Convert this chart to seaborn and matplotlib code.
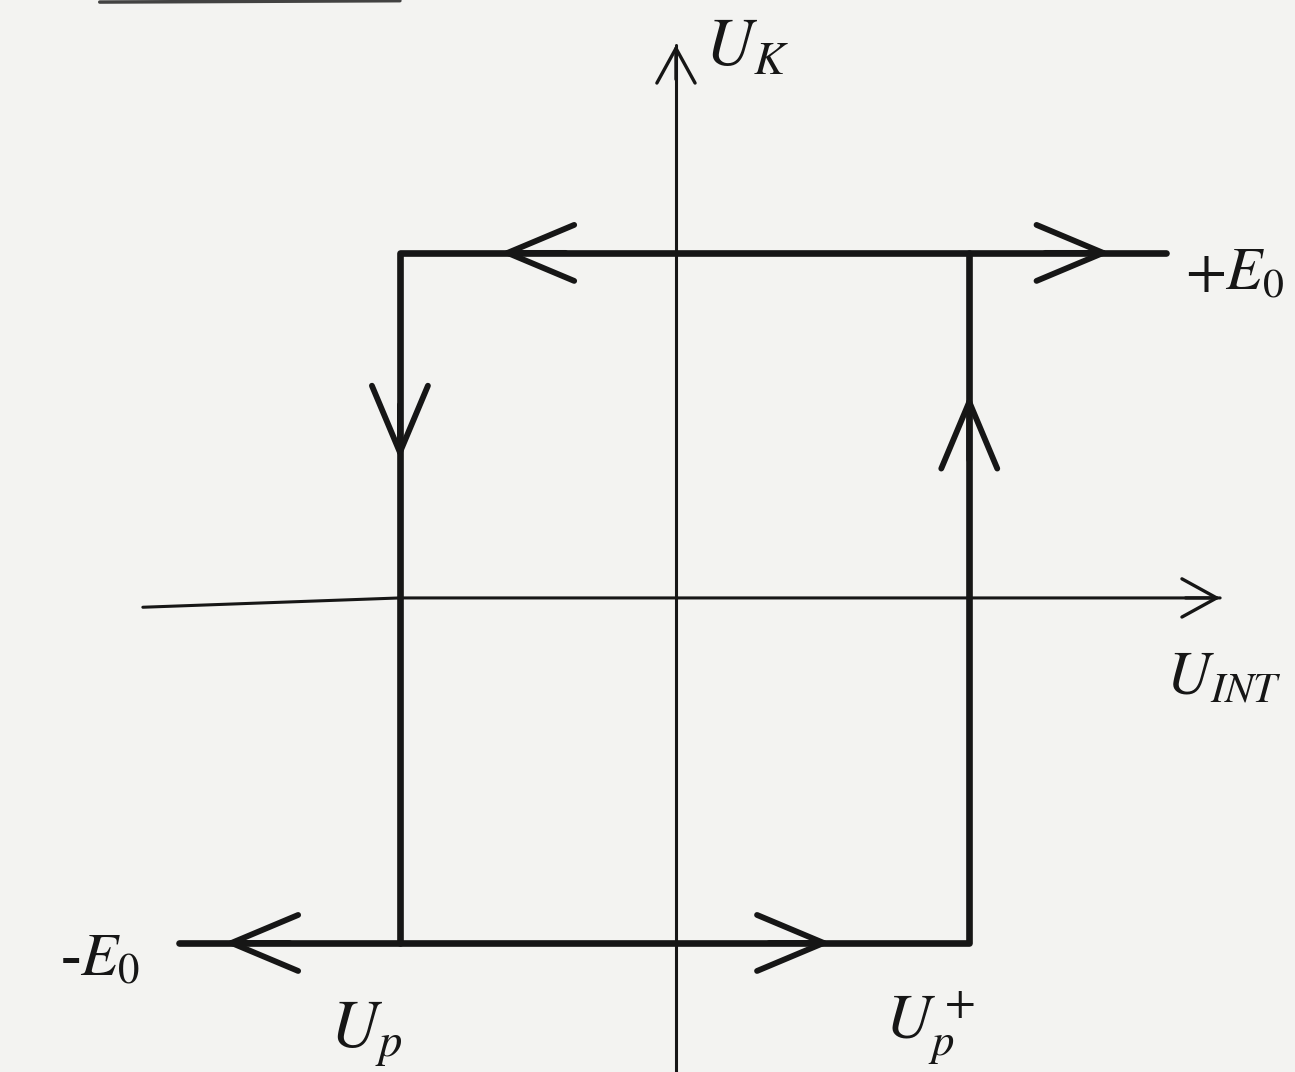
'''
Hysteresis loop of a comparator: U_K vs U_INT
Output: out.png
'''

import numpy as np
import pandas as pd
import seaborn as sns
import matplotlib.pyplot as plt

# data (units: E0 = 1)
E0 = 1.0
UP_MINUS = -0.80
UP_PLUS = 0.85
TOP_END = 1.42      # +E0 branch runs off to the right
BOTTOM_END = -1.44  # -E0 branch runs off to the left

# the two branches of the loop
upper_x = [TOP_END, UP_MINUS, UP_MINUS]
upper_y = [E0, E0, -E0]
lower_x = [BOTTOM_END, UP_PLUS, UP_PLUS]
lower_y = [-E0, -E0, E0]

# direction arrows on the branches (tail -> tip)
arrow_tail_x = [1.07, -0.32, UP_MINUS, UP_PLUS, 0.27, -1.12]
arrow_tail_y = [E0, E0, 0.56, 0.40, -E0, -E0]
arrow_tip_x = [1.26, -0.51, UP_MINUS, UP_PLUS, 0.45, -1.31]
arrow_tip_y = [E0, E0, 0.40, 0.59, -E0, -E0]

# coordinate axes
x_axis_x = [-1.545, UP_MINUS, 1.577]
x_axis_y = [-0.027, 0.0, 0.0]
y_axis_x = [0.0, 0.0]
y_axis_y = [-1.374, 1.603]

INK = '#161616'
PAPER = '#f3f3f1'

sns.set_theme(style='white')
plt.rcParams['font.family'] = ['Liberation Serif', 'DejaVu Serif']
plt.rcParams['mathtext.fontset'] = 'stix'

fig = plt.figure(figsize=(12.95, 10.72), dpi=100, facecolor=PAPER)
ax = fig.add_axes([0, 0, 1, 1])
ax.set_facecolor(PAPER)
ax.set_xlim(-1.959, 1.794)
ax.set_ylim(-1.374, 1.733)
ax.axis('off')

# axes lines
sns.lineplot(x=x_axis_x, y=x_axis_y, sort=False, estimator=None, color=INK, lw=2.2, ax=ax)
sns.lineplot(x=y_axis_x, y=y_axis_y, sort=False, estimator=None, color=INK, lw=2.2, ax=ax)
ax.annotate('', xy=(x_axis_x[-1], 0), xytext=(x_axis_x[-1] - 0.1, 0),
            arrowprops=dict(arrowstyle='->,head_length=1.0,head_width=0.55',
                            mutation_scale=25, color=INK, lw=2.4, shrinkA=0, shrinkB=0))
ax.annotate('', xy=(0, y_axis_y[-1]), xytext=(0, y_axis_y[-1] - 0.1),
            arrowprops=dict(arrowstyle='->,head_length=1.0,head_width=0.55',
                            mutation_scale=25, color=INK, lw=2.4, shrinkA=0, shrinkB=0))

# loop
loop = pd.DataFrame({'x': upper_x + lower_x, 'y': upper_y + lower_y,
                     'branch': ['upper'] * 3 + ['lower'] * 3})
sns.lineplot(data=loop, x='x', y='y', units='branch', sort=False, estimator=None,
             color=INK, lw=4.8, ax=ax)
for tx, ty, hx, hy in zip(arrow_tail_x, arrow_tail_y, arrow_tip_x, arrow_tip_y):
    ax.annotate('', xy=(hx, hy), xytext=(tx, ty),
                arrowprops=dict(arrowstyle='->,head_length=1.0,head_width=0.42',
                                mutation_scale=48, color=INK, lw=4.2,
                                shrinkA=0, shrinkB=0))

# stray stroke from the scan at the top edge
ax.plot([-1.67, -0.80], [1.727, 1.731], color=INK, lw=2.5, alpha=0.8)

# labels
ax.text(0.084, 1.545, r'$U_K$', fontsize=48, color=INK, ha='left', va='baseline')
ax.text(1.475, 0.893, r'$+E_0$', fontsize=43, color=INK, ha='left', va='baseline')
ax.text(1.42, -0.281, r'$U_{INT}$', fontsize=44, color=INK, ha='left', va='baseline')
ax.text(-1.786, -1.093, r'-$E_0$', fontsize=44, color=INK, ha='left', va='baseline')
ax.text(-1.003, -1.304, r'$U_p$', fontsize=48, color=INK, ha='left', va='baseline')
ax.text(0.606, -1.28, r'$U_p^+$', fontsize=46, color=INK, ha='left', va='baseline')

plt.savefig('out.png', dpi=100, facecolor=PAPER)
plt.close()
print('saved out.png')
